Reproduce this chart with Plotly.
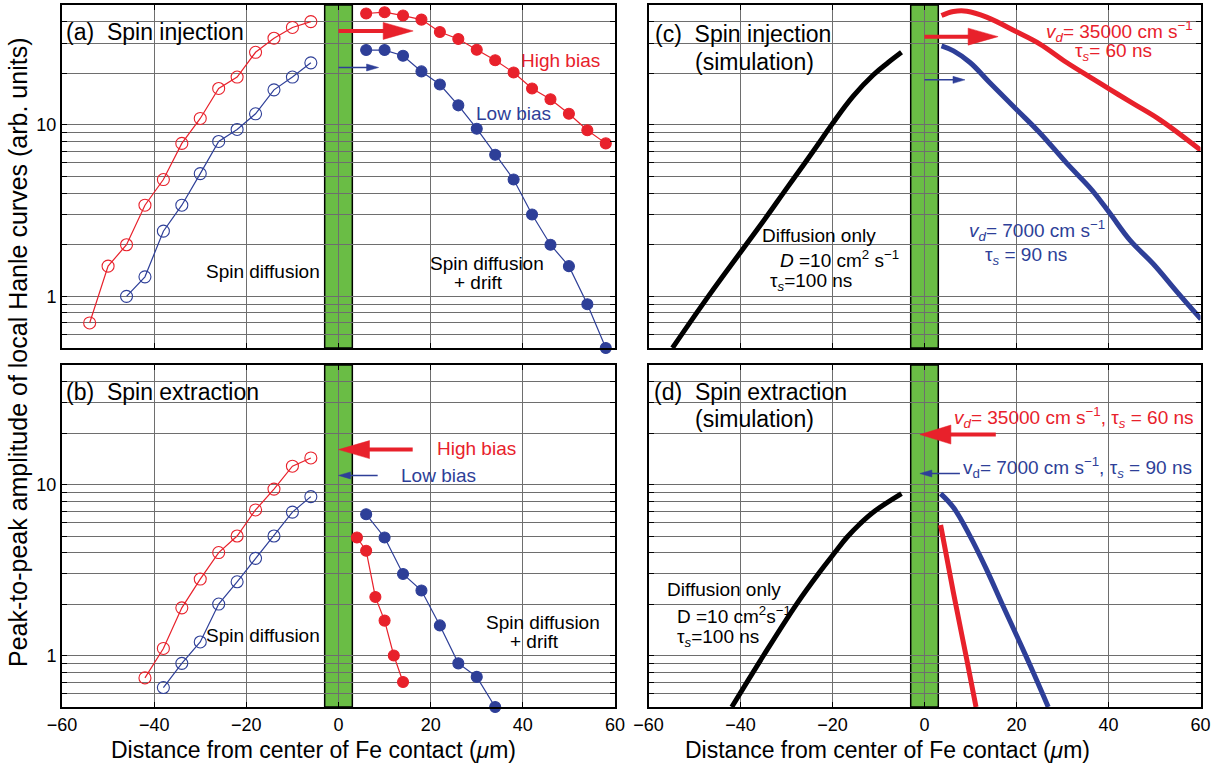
import math
import plotly.graph_objects as go

RED = "#e8212b"
BLUE = "#2e3f98"
GREEN = "#6abd45"
GRID = "#6e6e6e"
FONT = "Liberation Sans, Arial, Helvetica, sans-serif"

# ---------------- data ----------------
# (a) spin injection, measured
a_left_high_x = [-54, -50, -46, -42, -38, -34, -30, -26, -22, -18, -14, -10, -6]
a_left_high_y = [0.70, 1.5, 2.0, 3.4, 4.8, 7.8, 10.9, 16.3, 19.0, 26.5, 32.0, 37.0, 40.0]
a_left_low_x = [-46, -42, -38, -34, -30, -26, -22, -18, -14, -10, -6]
a_left_low_y = [1.0, 1.3, 2.4, 3.4, 5.2, 8.0, 9.4, 11.6, 16.0, 19.0, 23.0]
a_right_x = [6, 10, 14, 18, 22, 26, 30, 34, 38, 42, 46, 50, 54, 58]
a_right_high_y = [44.6, 45.4, 43.4, 41.1, 34.8, 31.7, 27.4, 23.8, 20.2, 16.3, 14.1, 11.6, 9.3, 7.8]
a_right_low_y = [27.3, 27.3, 25.3, 20.5, 17.2, 13.0, 9.5, 6.7, 4.8, 3.0, 2.0, 1.5, 0.9, 0.5]

# (b) spin extraction, measured
b_left_high_x = [-42, -38, -34, -30, -26, -22, -18, -14, -10, -6]
b_left_high_y = [0.74, 1.1, 1.9, 2.8, 4.0, 5.0, 7.1, 9.4, 12.8, 14.3]
b_left_low_x = [-38, -34, -30, -26, -22, -18, -14, -10, -6]
b_left_low_y = [0.65, 0.9, 1.2, 2.0, 2.7, 3.7, 5.0, 6.9, 8.5]
b_right_high_x = [4, 6, 8, 10, 12, 14]
b_right_high_y = [4.9, 4.1, 2.2, 1.6, 1.0, 0.70]
b_right_low_x = [6, 10, 14, 18, 22, 26, 30, 34]
b_right_low_y = [6.7, 4.9, 3.0, 2.4, 1.5, 0.9, 0.75, 0.5]

# (c) spin injection, simulation
c_diff_x = [-54.8, -47.0, -38.8, -34.0, -30.7, -26.0, -22.7, -20.2, -15.5, -11.1, -7.9, -5.0]
c_diff_y = [0.5, 1.0, 2.0, 3.0, 4.0, 6.0, 8.0, 10.0, 14.7, 19.6, 23.1, 26.5]
c_high_x = [3.7, 6.3, 9.2, 13.5, 20.0, 25.1, 30.9, 36.7, 40.3, 45.4, 51.2, 60.1]
c_high_y = [43.4, 45.8, 46.0, 42.5, 34.9, 29.6, 23.1, 18.5, 16.1, 13.3, 10.7, 7.1]
c_low_x = [3.7, 6.3, 9.9, 14.2, 20.0, 25.1, 30.9, 36.4, 40.3, 44.7, 49.7, 54.8, 60.1]
c_low_y = [28.9, 27.0, 23.1, 17.6, 12.3, 8.97, 5.98, 4.17, 3.05, 2.12, 1.55, 1.07, 0.736]

# (d) spin extraction, simulation
d_diff_x = [-41.9, -35.0, -27.8, -23.1, -19.5, -16.9, -14.0, -10.8, -5.0]
d_diff_y = [0.5, 1.0, 2.0, 3.0, 4.0, 4.9, 5.9, 7.0, 8.85]
d_high_x = [3.5, 6.3, 9.2, 11.2]
d_high_y = [5.8, 2.32, 0.944, 0.50]
d_low_x = [3.5, 6.3, 9.9, 13.5, 17.1, 20.8, 23.7, 26.9]
d_low_y = [8.85, 7.33, 4.99, 3.18, 1.94, 1.18, 0.79, 0.50]

# axes
x_tick_vals = [-60, -40, -20, 0, 20, 40, 60]
x_tick_text = ["\u221260", "\u221240", "\u221220", "0", "20", "40", "60"]
y_grid_vals = [0.6, 0.7, 0.8, 0.9, 1, 2, 3, 4, 5, 6, 7, 8, 9, 10, 20, 30, 40]
y_tick_text = ["1" if v == 1 else ("10" if v == 10 else "") for v in y_grid_vals]
x_range = [-60, 60]
y_range = [0.5, 50]
contact_edges = [-3, 3]

# ---------------- figure ----------------
W, H = 1222, 767
X_LEFT = [62 / W, 615 / W]
X_RIGHT = [648.5 / W, 1200.5 / W]
Y_TOP = [1 - 348 / H, 1 - 5 / H]
Y_BOT = [1 - 707 / H, 1 - 365 / H]

fig = go.Figure()

def marker_trace(x, y, color, filled, xa, ya):
    fig.add_trace(go.Scatter(
        x=x, y=y, mode="lines+markers", xaxis=xa, yaxis=ya,
        line=dict(color=color, width=1.2),
        marker=dict(symbol="circle" if filled else "circle-open",
                    size=11 if filled else 12, color=color,
                    line=dict(color=color, width=1.1)),
        cliponaxis=False, showlegend=False, hoverinfo="skip"))

def curve_trace(x, y, color, xa, ya):
    fig.add_trace(go.Scatter(
        x=x, y=y, mode="lines", xaxis=xa, yaxis=ya,
        line=dict(color=color, width=5, shape="spline", smoothing=1.1),
        showlegend=False, hoverinfo="skip"))

marker_trace(a_left_high_x, a_left_high_y, RED, False, "x", "y")
marker_trace(a_left_low_x, a_left_low_y, BLUE, False, "x", "y")
marker_trace(a_right_x, a_right_high_y, RED, True, "x", "y")
marker_trace(a_right_x, a_right_low_y, BLUE, True, "x", "y")

marker_trace(b_left_high_x, b_left_high_y, RED, False, "x2", "y2")
marker_trace(b_left_low_x, b_left_low_y, BLUE, False, "x2", "y2")
marker_trace(b_right_high_x, b_right_high_y, RED, True, "x2", "y2")
marker_trace(b_right_low_x, b_right_low_y, BLUE, True, "x2", "y2")

curve_trace(c_diff_x, c_diff_y, "black", "x3", "y3")
curve_trace(c_high_x, c_high_y, RED, "x3", "y3")
curve_trace(c_low_x, c_low_y, BLUE, "x3", "y3")

curve_trace(d_diff_x, d_diff_y, "black", "x4", "y4")
curve_trace(d_high_x, d_high_y, RED, "x4", "y4")
curve_trace(d_low_x, d_low_y, BLUE, "x4", "y4")

def xaxis_cfg(domain, anchor, labels):
    return dict(domain=domain, anchor=anchor, range=x_range, tickmode="array",
                tickvals=x_tick_vals, ticktext=x_tick_text, showticklabels=labels,
                ticks="inside", ticklen=5, tickcolor="black", showgrid=True,
                gridcolor=GRID, gridwidth=1, zeroline=False, showline=True,
                linecolor="black", linewidth=2, mirror="ticks", automargin=False,
                tickfont=dict(size=18, color="black", family=FONT))

def yaxis_cfg(domain, anchor, labels):
    return dict(domain=domain, anchor=anchor, type="log",
                range=[math.log10(y_range[0]), math.log10(y_range[1])],
                tickmode="array", tickvals=y_grid_vals, ticktext=y_tick_text,
                showticklabels=labels, ticks="inside", ticklen=5, tickcolor="black",
                showgrid=True, gridcolor=GRID, gridwidth=1, zeroline=False,
                showline=True, linecolor="black", linewidth=2, mirror="ticks",
                automargin=False,
                tickfont=dict(size=18, color="black", family=FONT))

fig.update_layout(
    width=W, height=H, autosize=False,
    margin=dict(l=0, r=0, t=0, b=0, pad=0, autoexpand=False),
    paper_bgcolor="white", plot_bgcolor="white",
    font=dict(family=FONT, color="black"),
    showlegend=False, hovermode=False,
    xaxis=xaxis_cfg(X_LEFT, "y", False), yaxis=yaxis_cfg(Y_TOP, "x", True),
    xaxis2=xaxis_cfg(X_LEFT, "y2", True), yaxis2=yaxis_cfg(Y_BOT, "x2", True),
    xaxis3=xaxis_cfg(X_RIGHT, "y3", False), yaxis3=yaxis_cfg(Y_TOP, "x3", False),
    xaxis4=xaxis_cfg(X_RIGHT, "y4", True), yaxis4=yaxis_cfg(Y_BOT, "x4", False),
)

# Fe contact (green bar)
for xa, ya in [("x", "y"), ("x2", "y2"), ("x3", "y3"), ("x4", "y4")]:
    fig.add_shape(type="rect", xref=xa, yref=ya + " domain",
                  x0=contact_edges[0], x1=contact_edges[1], y0=0, y1=1,
                  fillcolor=GREEN, line=dict(color="black", width=1.5), layer="below")

def arrow(xa, ya, tail, tip, yval, color, shaft_w, head_len, head_half):
    d = 1 if tip > tail else -1
    fig.add_shape(type="line", xref=xa, yref=ya, x0=tail,
                  x1=tip - d * head_len * 0.5 / 4.6, y0=yval, y1=yval,
                  line=dict(color=color, width=shaft_w), layer="above")
    path = f"M0,0 L{-d * head_len},{head_half} L{-d * head_len},{-head_half} Z"
    fig.add_shape(type="path", xref=xa, yref=ya, xsizemode="pixel", ysizemode="pixel",
                  xanchor=tip, yanchor=yval, path=path, fillcolor=color,
                  line=dict(color=color, width=0.5), layer="above")

arrow("x", "y", 0, 16.2, 35.3, RED, 4, 30, 8.5)
arrow("x", "y", 0, 8.7, 21.6, BLUE, 1.5, 12, 3.5)
arrow("x2", "y2", 16.1, 0, 16.0, RED, 4, 31, 9)
arrow("x2", "y2", 8.5, 0, 11.3, BLUE, 1.5, 12, 3.5)
arrow("x3", "y3", 0, 16.0, 32.7, RED, 4, 30, 8.5)
arrow("x3", "y3", 0, 8.8, 18.3, BLUE, 1.5, 12, 3.5)
arrow("x4", "y4", 15.5, -1, 19.6, RED, 4, 31, 9.5)
arrow("x4", "y4", 7.7, -1, 11.6, BLUE, 1.5, 12, 3.5)

def label(xa, ya, x, yval, text, color="black", size=19, anchor="left"):
    fig.add_annotation(xref=xa, yref=ya, x=x, y=math.log10(yval), text=text,
                       showarrow=False, xanchor=anchor, yanchor="middle",
                       font=dict(family=FONT, size=size, color=color))

NB = "\u00a0"
# (a)
label("x", "y", -59.5, 34.8, "(a)" + NB + " Spin injection", size=23)
label("x", "y", -3.6, 1.40, "Spin diffusion", anchor="right")
label("x", "y", 48.2, 23.6, "High bias", RED, anchor="center")
label("x", "y", 37.9, 11.6, "Low bias", BLUE, anchor="center")
label("x", "y", 32.2, 1.55, "Spin diffusion", anchor="center")
label("x", "y", 30.3, 1.21, "+ drift", anchor="center")
# (b)
label("x2", "y2", -59.5, 34.7, "(b)" + NB + " Spin extraction", size=23)
label("x2", "y2", -3.65, 1.31, "Spin diffusion", anchor="right")
label("x2", "y2", 21.0, 16.3, "High bias", RED)
label("x2", "y2", 13.2, 11.35, "Low bias", BLUE)
label("x2", "y2", 44.3, 1.55, "Spin diffusion", anchor="center")
label("x2", "y2", 42.5, 1.21, "+ drift", anchor="center")
# (c)
label("x3", "y3", -59.0, 33.9, "(c)" + NB + " Spin injection", size=23)
label("x3", "y3", -50.3, 23.2, "(simulation)", size=23)
label("x3", "y3", -35.8, 2.27, "Diffusion only")
label("x3", "y3", -31.8, 1.66, "<i>D</i> =10 cm<sup>2</sup> s<sup>\u22121</sup>")
label("x3", "y3", -34.0, 1.22, "\u03c4<sub><i>s</i></sub>=100 ns")
label("x3", "y3", 58.8, 34.8, "<i>v<sub>d</sub></i>= 35000 cm s<sup>\u22121</sup>", RED, anchor="right")
label("x3", "y3", 32.3, 26.5, "\u03c4<sub><i>s</i></sub>= 60 ns", RED)
label("x3", "y3", 9.2, 2.43, "<i>v<sub>d</sub></i>= 7000 cm s<sup>\u22121</sup>", BLUE)
label("x3", "y3", 12.7, 1.73, "\u03c4<sub><i>s</i></sub> = 90 ns", BLUE)
# (d)
label("x4", "y4", -59.2, 34.8, "(d)" + NB + " Spin extraction", size=23)
label("x4", "y4", -50.3, 24.2, "(simulation)", size=23)
label("x4", "y4", 59.0, 24.8,
      "<i>v<sub>d</sub></i>= 35000 cm s<sup>\u22121</sup>, \u03c4<sub><i>s</i></sub> = 60 ns",
      RED, anchor="right")
label("x4", "y4", 58.6, 12.6,
      "v<sub>d</sub>= 7000 cm s<sup>\u22121</sup>, \u03c4<sub><i>s</i></sub> = 90 ns",
      BLUE, anchor="right")
label("x4", "y4", -56.4, 2.43, "Diffusion only")
label("x4", "y4", -54.2, 1.73, "D =10 cm<sup>2</sup>s<sup>\u22121</sup>")
label("x4", "y4", -54.2, 1.27, "\u03c4<sub><i>s</i></sub>=100 ns")

# axis titles
XT = "Distance from center of Fe contact (<i>\u03bc</i>m)"
for xc in [313 / W, 887.6 / W]:
    fig.add_annotation(xref="paper", yref="paper", x=xc, y=1 - 750 / H, text=XT,
                       showarrow=False, xanchor="center", yanchor="middle",
                       font=dict(family=FONT, size=23, color="black"))
fig.add_annotation(xref="paper", yref="paper", x=18 / W, y=1 - 353 / H,
                   text="Peak-to-peak amplitude of local Hanle curves (arb. units)",
                   textangle=-90, showarrow=False, xanchor="center", yanchor="middle",
                   font=dict(family=FONT, size=25, color="black"))

fig.write_html("out.html",
               config={"displayModeBar": False, "staticPlot": True},
               post_script="document.body.style.margin='0px';"
                           "document.body.style.overflow='hidden';")
